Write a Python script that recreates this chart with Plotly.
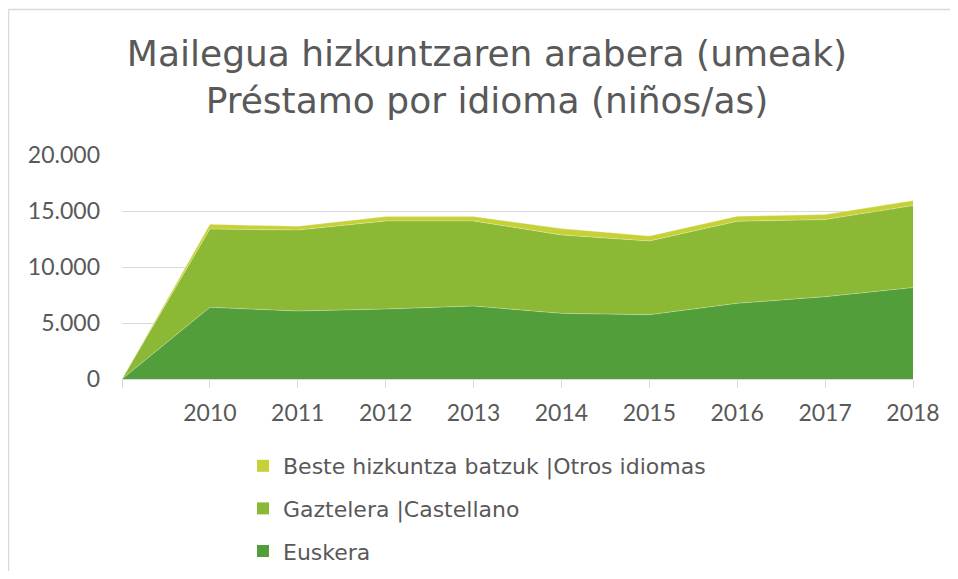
import plotly.graph_objects as go

years = ["2010", "2011", "2012", "2013", "2014", "2015", "2016", "2017", "2018"]
tick_labels = [""] + years
euskera = [0, 6400, 6070, 6250, 6520, 5860, 5740, 6760, 7350, 8160]
castellano = [0, 6990, 7230, 7860, 7590, 7000, 6580, 7320, 6880, 7320]
otros = [0, 420, 330, 390, 390, 570, 450, 450, 450, 450]

names = ["Euskera", "Gaztelera |Castellano", "Beste hizkuntza batzuk |Otros idiomas"]
colors = ["#529E3A", "#8BB835", "#C6D138"]
series = [euskera, castellano, otros]

# the page body adds an 8px margin on every side; work in reference pixels
OFF = 8
W, H = 958 - 2 * OFF, 579 - 2 * OFF
L, T = 122 - OFF, 155 - OFF
R = W - (913 - OFF)
B = H - (379 - OFF)
pw, ph = W - L - R, H - T - B

def px_x(p):
    return (p - OFF - L) / pw

def px_y(p):
    return (H - B - (p - OFF)) / ph

xs = list(range(len(tick_labels)))
FONT = "Lato"
WIDE = "DejaVu Sans"
GREY = "#595959"

fig = go.Figure()
for nm, col, vals in zip(names, colors, series):
    fig.add_trace(go.Scatter(
        x=xs, y=vals, mode="lines", stackgroup="one",
        line=dict(width=0.8, color="rgba(255,255,255,0.35)"),
        fillcolor=col, showlegend=False, hoverinfo="y", name=nm,
    ))
for i in reversed(range(len(names))):
    fig.add_trace(go.Scatter(
        x=[None], y=[None], mode="markers", name=names[i], legendgroup="g%d" % i,
        marker=dict(symbol="square", size=12, color=colors[i]),
    ))

border = dict(color="#D9D9D9", width=1.5)
fig.update_layout(
    width=W, height=H,
    margin=dict(l=L, r=R, t=T, b=B, autoexpand=False),
    paper_bgcolor="white", plot_bgcolor="white",
    font=dict(family=FONT, color=GREY),
    title=dict(
        text="Mailegua hizkuntzaren arabera (umeak)<br>Préstamo por idioma (niños/as)",
        x=(487 - OFF) / W, xanchor="center", xref="container",
        y=1 - (66 - OFF) / H, yanchor="top", yref="container",
        font=dict(family=WIDE, size=36, color=GREY),
    ),
    xaxis=dict(
        range=[0, len(xs) - 1], tickmode="array", tickvals=xs, ticktext=tick_labels,
        showgrid=False, zeroline=False, showline=True, linecolor="#D9D9D9", linewidth=1.3,
        ticks="outside", ticklen=8, tickcolor="#D9D9D9", tickwidth=1.3,
        tickfont=dict(family=FONT, size=23, color=GREY), ticklabelstandoff=5,
        automargin=False,
    ),
    yaxis=dict(
        range=[0, 20000], tickmode="array", tickvals=[0, 5000, 10000, 15000, 20000],
        ticktext=["0", "5.000", "10.000", "15.000", "20.000"],
        showgrid=True, gridcolor="#D9D9D9", gridwidth=1.3, zeroline=False,
        showline=False, ticks="", tickfont=dict(family=FONT, size=23, color=GREY),
        ticklabelstandoff=21, automargin=False,
    ),
    legend=dict(
        orientation="v", traceorder="grouped", tracegroupgap=11,
        xref="container", yref="container",
        x=(243 - OFF) / W, xanchor="left", y=1 - (445 - OFF) / H, yanchor="top",
        font=dict(family=WIDE, size=22, color=GREY), bgcolor="rgba(0,0,0,0)",
    ),
    shapes=[
        dict(type="line", xref="paper", yref="paper",
             x0=px_x(8.5), x1=px_x(975), y0=px_y(9.5), y1=px_y(9.5), line=border, layer="below"),
        dict(type="line", xref="paper", yref="paper",
             x0=px_x(8.5), x1=px_x(8.5), y0=px_y(9.5), y1=px_y(600), line=border, layer="below"),
    ],
)

fig.write_html("out.html", config={"displayModeBar": False})
